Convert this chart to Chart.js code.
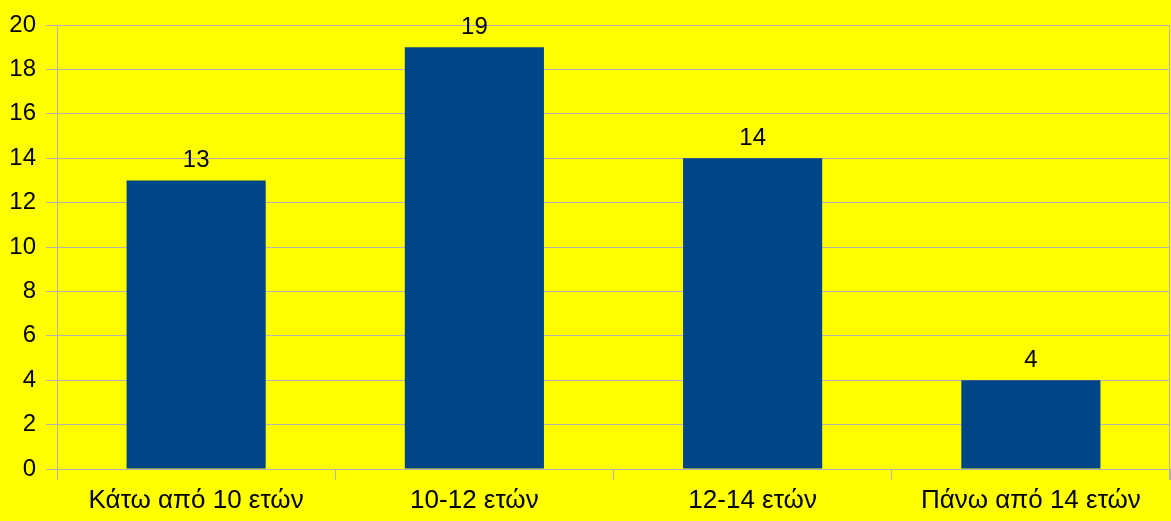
<!DOCTYPE html>
<html>
<head>
<meta charset="utf-8">
<script src="https://cdn.jsdelivr.net/npm/chart.js@4/dist/chart.umd.min.js"></script>
<style>
  html, body { margin: 0; padding: 0; background: #ffff00; }
  #wrap { width: 1171px; height: 521px; }
</style>
</head>
<body>
<div id="wrap"><canvas id="ageChart" width="1171" height="521"></canvas></div>
<script>
let xAgeGroups = ["Κάτω από 10 ετών", "10-12 ετών", "12-14 ετών", "Πάνω από 14 ετών"];
let yCounts = [13, 19, 14, 4];
let yTicks = [0, 2, 4, 6, 8, 10, 12, 14, 16, 18, 20];

let barColor = "#004586";
let gridColor = "#b3b3b3";
let fontFam = "'Liberation Sans', Arial, sans-serif";

// value labels above bars + right frame line of the plot
let valueLabels = {
  id: "valueLabels",
  beforeDatasetsDraw(chart) {
    let ctx = chart.ctx;
    let a = chart.chartArea;
    ctx.save();
    ctx.strokeStyle = gridColor;
    ctx.lineWidth = 1;
    ctx.beginPath();
    ctx.moveTo(a.right - 0.5, a.top);
    ctx.lineTo(a.right - 0.5, a.bottom + 11);
    ctx.stroke();
    ctx.restore();
  },
  afterDatasetsDraw(chart) {
    let ctx = chart.ctx;
    let meta = chart.getDatasetMeta(0);
    ctx.save();
    ctx.font = "24px " + fontFam;
    ctx.fillStyle = "#000";
    ctx.textAlign = "center";
    ctx.textBaseline = "alphabetic";
    meta.data.forEach(function (bar, i) {
      ctx.fillText(String(yCounts[i]), bar.x, bar.y - 13);
    });
    ctx.restore();
  }
};

let ageChart = new Chart("ageChart", {
  type: "bar",
  data: {
    labels: xAgeGroups,
    datasets: [{
      backgroundColor: barColor,
      data: yCounts,
      barPercentage: 0.5,
      categoryPercentage: 1.0
    }]
  },
  options: {
    responsive: false,
    animation: false,
    layout: { padding: { top: 25, right: 1, left: 0, bottom: 0 } },
    plugins: {
      legend: { display: false },
      tooltip: { enabled: false }
    },
    scales: {
      x: {
        grid: { color: gridColor, offset: true, tickLength: 11, drawOnChartArea: false },
        border: { color: gridColor },
        ticks: { color: "#000", font: { family: fontFam, size: 26 }, padding: 5, maxRotation: 0 },
        afterFit(scale) { scale.height = 52; }
      },
      y: {
        min: 0,
        max: 20,
        afterBuildTicks(scale) { scale.ticks = yTicks.map(v => ({ value: v })); },
        grid: { color: gridColor, tickLength: 11 },
        border: { color: gridColor },
        ticks: { color: "#000", font: { family: fontFam, size: 24 }, padding: 10 },
        afterFit(scale) { scale.width = 57; }
      }
    }
  },
  plugins: [valueLabels]
});
</script>
</body>
</html>
